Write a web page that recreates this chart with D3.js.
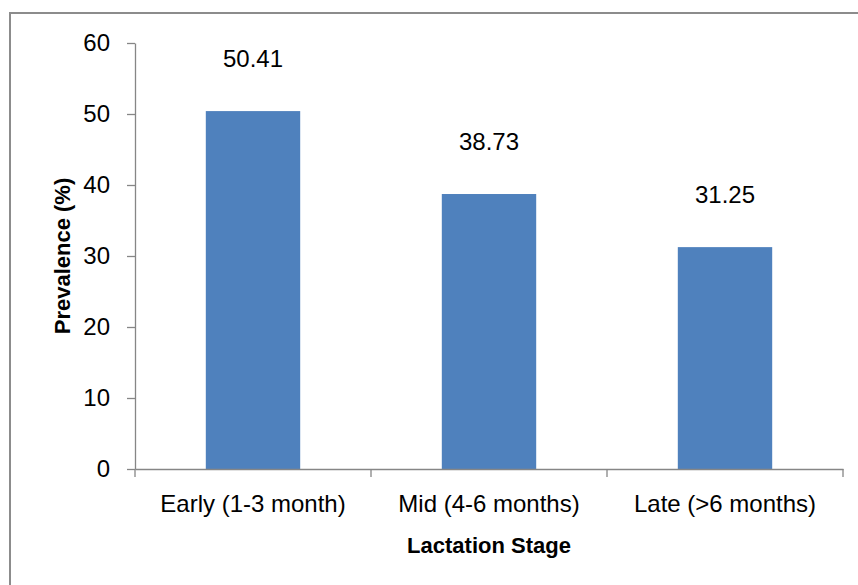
<!DOCTYPE html>
<html>
<head>
<meta charset="utf-8">
<script src="https://cdn.jsdelivr.net/npm/d3@7"></script>
<style>
  html, body { margin: 0; padding: 0; background: #fff; }
  svg { display: block; }
  text { font-family: "Liberation Sans", Arial, sans-serif; fill: #000; }
</style>
</head>
<body>
<svg id="chart" width="858" height="585"></svg>
<script>
// Prevalence by lactation stage
const categories = ["Early (1-3 month)", "Mid (4-6 months)", "Late (>6 months)"];
const prevalence = [50.41, 38.73, 31.25];
const yTicks = [0, 10, 20, 30, 40, 50, 60];
const xTitle = "Lactation Stage";
const yTitle = "Prevalence (%)";

const W = 858, H = 585;
const plot = { left: 135, right: 843, top: 43, bottom: 469 };
const axisColor = "#868686";
const barColor = "#4F81BD";

const svg = d3.select("#chart");

// Outer chart frame
svg.append("rect")
  .attr("x", 10).attr("y", 13)
  .attr("width", W + 10).attr("height", H + 10)
  .attr("fill", "#fff")
  .attr("stroke", "#8c8c8c")
  .attr("stroke-width", 2);

const x = d3.scaleBand()
  .domain(categories)
  .range([plot.left, plot.right])
  .paddingInner(0.6)
  .paddingOuter(0.3);

const y = d3.scaleLinear()
  .domain([0, 60])
  .range([plot.bottom, plot.top]);

// Bars
svg.append("g").selectAll("rect")
  .data(categories)
  .join("rect")
  .attr("x", d => x(d))
  .attr("width", x.bandwidth())
  .attr("y", (d, i) => y(prevalence[i]))
  .attr("height", (d, i) => y(0) - y(prevalence[i]))
  .attr("fill", barColor);

// Value labels above bars
svg.append("g").selectAll("text")
  .data(categories)
  .join("text")
  .attr("x", d => x(d) + x.bandwidth() / 2)
  .attr("y", (d, i) => y(prevalence[i]) - 44)
  .attr("text-anchor", "middle")
  .style("font-size", "24px")
  .text((d, i) => prevalence[i].toFixed(2));

// Y axis
const yAxis = svg.append("g")
  .attr("transform", `translate(${plot.left},0)`)
  .call(d3.axisLeft(y).tickValues(yTicks).tickSize(8).tickSizeOuter(0).tickPadding(17));
yAxis.select(".domain").attr("stroke", axisColor).attr("stroke-width", 1.3);
yAxis.selectAll(".tick line").attr("stroke", axisColor).attr("stroke-width", 1.3);
yAxis.selectAll(".tick text")
  .style("font-size", "24px")
  .style("font-family", "'Liberation Sans', Arial, sans-serif")
  .attr("fill", "#000");

// X axis: category labels centred in bands, tick marks on band boundaries
const xAxis = svg.append("g")
  .attr("transform", `translate(0,${plot.bottom})`)
  .call(d3.axisBottom(x).tickSize(0).tickSizeOuter(0).tickPadding(26));
xAxis.select(".domain").attr("stroke", axisColor).attr("stroke-width", 1.3);
xAxis.selectAll(".tick text")
  .style("font-size", "24px")
  .style("font-family", "'Liberation Sans', Arial, sans-serif")
  .attr("fill", "#000");

const step = x.step();
const bounds = d3.range(categories.length + 1).map(i => x(categories[0]) - x.step() * x.paddingOuter() + i * step);
xAxis.selectAll("line.bound")
  .data(bounds)
  .join("line")
  .attr("class", "bound")
  .attr("x1", d => d).attr("x2", d => d)
  .attr("y1", 0).attr("y2", 8)
  .attr("stroke", axisColor)
  .attr("stroke-width", 1.3);

// Axis titles
svg.append("text")
  .attr("x", (plot.left + plot.right) / 2)
  .attr("y", 553)
  .attr("text-anchor", "middle")
  .style("font-size", "22px")
  .style("font-weight", "bold")
  .text(xTitle);

svg.append("text")
  .attr("transform", `translate(70,${(plot.top + plot.bottom) / 2}) rotate(-90)`)
  .attr("text-anchor", "middle")
  .style("font-size", "22px")
  .style("font-weight", "bold")
  .text(yTitle);
</script>
</body>
</html>
